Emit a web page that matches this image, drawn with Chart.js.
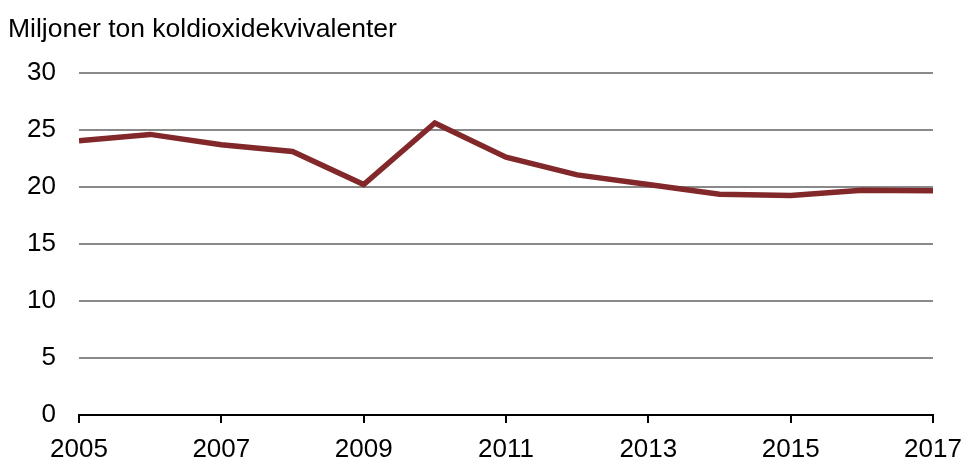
<!DOCTYPE html>
<html>
<head>
<meta charset="utf-8">
<script src="https://cdn.jsdelivr.net/npm/chart.js@4.4.1/dist/chart.umd.min.js"></script>
<style>
    html, body { margin: 0; padding: 0; background: #fff; }
    canvas { display: block; }
</style>
</head>
<body>
<canvas id="utslapp_line" width="963" height="458"></canvas>
<script>
// Utsläpp per år, miljoner ton koldioxidekvivalenter
const years = [2005, 2006, 2007, 2008, 2009, 2010, 2011, 2012, 2013, 2014, 2015, 2016, 2017];
const emissions = [24.05, 24.6, 23.7, 23.1, 20.2, 25.6, 22.6, 21.05, 20.2, 19.35, 19.25, 19.7, 19.65];
const yTicks = [0, 5, 10, 15, 20, 25, 30];
const xTicks = [2005, 2007, 2009, 2011, 2013, 2015, 2017];

const fontFamily = '"Liberation Sans", Arial, sans-serif';

const utslapp_line = document.getElementById('utslapp_line').getContext('2d');
new Chart(utslapp_line, {
    type: 'line',
    data: {
        datasets: [{
            data: years.map((y, i) => ({ x: y, y: emissions[i] })),
            borderColor: '#82282a',
            borderWidth: 5.5,
            pointRadius: 0,
            tension: 0,
            fill: false
        }]
    },
    options: {
        responsive: false,
        animation: false,
        layout: {
            padding: { left: 8, right: 30, top: 0, bottom: 0 }
        },
        plugins: {
            legend: { display: false },
            tooltip: { enabled: false },
            title: {
                display: true,
                text: 'Miljoner ton koldioxidekvivalenter',
                align: 'start',
                color: '#000',
                font: { family: fontFamily, size: 26.5, weight: 'normal', lineHeight: 1.2 },
                padding: { top: 14, bottom: 27 }
            }
        },
        scales: {
            x: {
                type: 'linear',
                min: xTicks[0],
                max: xTicks[xTicks.length - 1],
                afterBuildTicks: (scale) => {
                    scale.ticks = xTicks.map(v => ({ value: v }));
                },
                afterFit: (scale) => {
                    scale.height = 43;
                    // end labels may hang past the plot edge
                    scale.paddingLeft = 0;
                    scale.paddingRight = 0;
                },
                ticks: {
                    color: '#000',
                    font: { family: fontFamily, size: 26 },
                    padding: 11,
                    maxRotation: 0,
                    callback: (v) => String(v)
                },
                grid: {
                    drawOnChartArea: false,
                    drawTicks: true,
                    tickLength: 8,
                    color: '#000',
                    lineWidth: 2
                },
                border: { color: '#000', width: 2 }
            },
            y: {
                min: 0,
                max: 30,
                afterBuildTicks: (scale) => {
                    scale.ticks = yTicks.map(v => ({ value: v }));
                },
                afterFit: (scale) => { scale.width = 71; },
                ticks: {
                    color: '#000',
                    font: { family: fontFamily, size: 26 },
                    padding: 23
                },
                grid: {
                    drawTicks: false,
                    color: '#898989',
                    lineWidth: 2
                },
                border: { display: false }
            }
        }
    }
});
</script>
</body>
</html>
